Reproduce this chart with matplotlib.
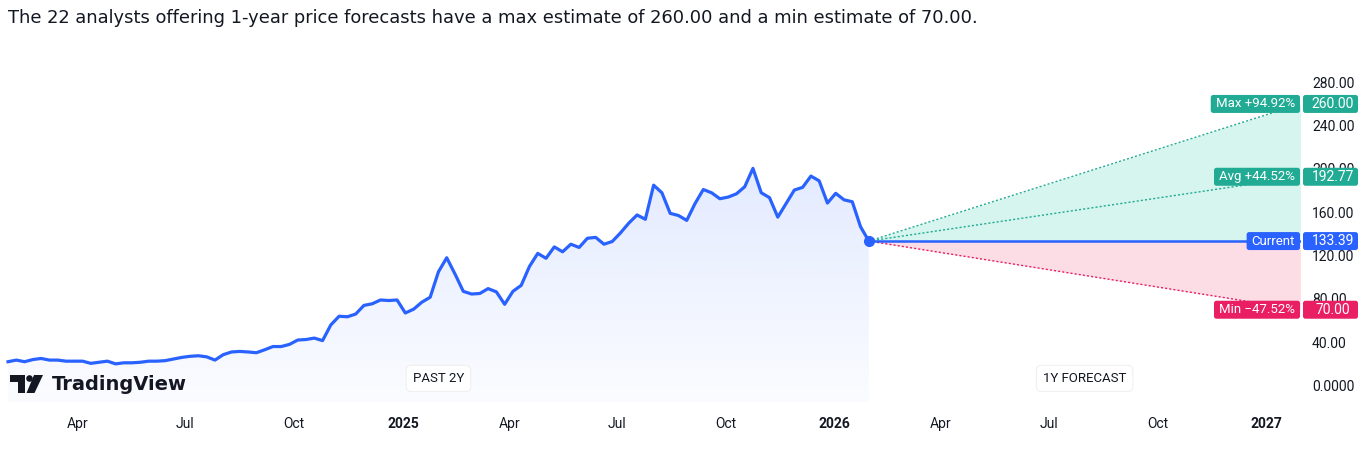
import numpy as np
import pandas as pd
import matplotlib
matplotlib.use("Agg")
import matplotlib.pyplot as plt
import matplotlib.dates as mdates
from matplotlib.patches import FancyBboxPatch, Polygon, Circle
from matplotlib.transforms import IdentityTransform

# weekly closes, past 2 years
prices = [22, 23.5, 22, 24, 25, 23.5, 23.5, 22.5, 22.5, 22.5,
          20.5, 21.5, 22.5, 20, 21, 21, 21.5, 22.5, 22.5, 23,
          24.5, 26, 27, 27.5, 26.5, 23.5, 28.5, 31, 31.5, 31,
          30.3, 33, 36, 36, 38, 42, 42.5, 43.8, 41.5, 56,
          64, 63.5, 66, 74, 75.5, 79, 78.5, 79, 67, 70.5,
          77, 81.5, 105, 118, 103, 87, 84.5, 85, 89.5, 86.5,
          75, 87, 92.5, 110, 122, 117.5, 128, 123.5, 130.5, 127.5,
          136, 136.8, 130.5, 133, 141, 150, 157.5, 153.5, 185, 178,
          159, 157, 152.5, 168, 181, 178, 172.5, 174, 177, 183.5,
          200.5, 178, 173.5, 155.5, 168, 180.5, 183, 193.4, 189, 168.5,
          177.5, 171.5, 169.7, 146.6, 133.39]
last_date = "2026-01-30"
forecast_end = "2027-01-30"

n_analysts = 22
current = 133.39
est_max = 260.00
est_avg = 192.77
est_min = 70.00

y_ticks = [0, 40, 80, 120, 160, 200, 240, 280]
x_tick_dates = ["2024-04-01", "2024-07-01", "2024-10-01", "2025-01-01",
                "2025-04-01", "2025-07-01", "2025-10-01", "2026-01-01",
                "2026-04-01", "2026-07-01", "2026-10-01", "2027-01-01"]
x_tick_labels = ["Apr", "Jul", "Oct", "2025", "Apr", "Jul", "Oct", "2026",
                 "Apr", "Jul", "Oct", "2027"]

BLUE = "#2962ff"
TEAL = "#22ab94"
PINK = "#e91e63"
TXT = "#131722"
UI = "Roboto"

W, H = 1363, 466
fig = plt.figure(figsize=(W / 100, H / 100), dpi=100)
ax = fig.add_axes([0, (H - 402) / H, 1301 / W, (402 - 55) / H])

dates = pd.date_range(end=last_date, periods=len(prices), freq="7D")
x = mdates.date2num(dates)
xe = mdates.date2num(pd.Timestamp(forecast_end))
ymin, ymax = -15.2, 305.2
xlim = (x[0] - 6.8, xe + 0.5)

# area under the price line with a vertical gradient
verts = [(x[0], ymin)] + list(zip(x, prices)) + [(x[-1], ymin)]
clip = Polygon(verts, closed=True, fc="none", ec="none", transform=ax.transData)
ax.add_patch(clip)
g = np.linspace(0, 1, 256)
img = np.zeros((256, 1, 4))
img[..., :3] = matplotlib.colors.to_rgb(BLUE)
img[:, 0, 3] = 0.13 - 0.11 * g
im = ax.imshow(img, extent=[x[0], x[-1], ymin, max(prices)], aspect="auto",
               origin="upper", zorder=1, interpolation="bilinear")
im.set_clip_path(clip)

# forecast cone
xf = [x[-1], xe]
ax.fill_between(xf, [current, current], [current, est_max], color="#d5f5ee", lw=0, zorder=1)
ax.fill_between(xf, [current, current], [current, est_min], color="#fcdde6", lw=0, zorder=1)
ax.plot(xf, [current, est_max], ls=(0, (1.5, 1.5)), color=TEAL, lw=1, zorder=2)
ax.plot(xf, [current, est_avg], ls=(0, (1.5, 1.5)), color=TEAL, lw=1, zorder=2)
ax.plot(xf, [current, est_min], ls=(0, (1.5, 1.5)), color=PINK, lw=1, zorder=2)
ax.plot(xf, [current, current], color=BLUE, lw=1.8, zorder=3)

ax.plot(x, prices, color=BLUE, lw=2.3, solid_joinstyle="round", zorder=4)
ax.plot(x[-1], current, "o", ms=7, color=BLUE, zorder=5)

ax.set_xlim(*xlim)
ax.set_ylim(ymin, ymax)

for s in ax.spines.values():
    s.set_visible(False)
ax.yaxis.tick_right()
ax.set_yticks(y_ticks)
ax.set_yticklabels(["0.0000" if v == 0 else f"{v:.2f}" for v in y_ticks])
ax.set_xticks(mdates.date2num(pd.to_datetime(x_tick_dates)))
ax.set_xticklabels(x_tick_labels)
ax.tick_params(axis="y", length=0, pad=8, labelsize=10, labelcolor=TXT)
ax.tick_params(axis="x", length=0, pad=11, labelsize=10, labelcolor=TXT)
for lab in ax.get_yticklabels() + ax.get_xticklabels():
    lab.set_fontfamily(UI)
for lab in ax.get_xticklabels():
    if lab.get_text().isdigit():
        lab.set_fontweight("bold")

# section captions
xt = ax.get_xaxis_transform()
for xm, cap in [((x[0] + x[-1]) / 2, "PAST 2Y"), ((x[-1] + xe) / 2, "1Y FORECAST")]:
    ax.text(xm, 0.068, cap, transform=xt, ha="center", va="center", fontsize=9.5,
            family=UI, color=TXT, zorder=6,
            bbox=dict(boxstyle="round,pad=0.5,rounding_size=0.4", fc="white",
                      ec="#f0f0f0", lw=0.8))

# right-hand tags
renderer = fig.canvas.get_renderer()
ident = IdentityTransform()


def tag(value, left, right, color):
    yc = ax.transData.transform((0, value))[1]
    t = fig.text(1295, yc, left, transform=ident, ha="right", va="center",
                 fontsize=9.5, family=UI, color="white", zorder=11)
    bb = t.get_window_extent(renderer)
    fig.patches.append(FancyBboxPatch((bb.x0 - 5, yc - 9), 1300 - (bb.x0 - 5), 18,
                                      boxstyle="round,pad=0,rounding_size=2.5",
                                      fc=color, ec="none", transform=ident, zorder=10,
                                      figure=fig))
    fig.patches.append(FancyBboxPatch((1303, yc - 9), 55, 18,
                                      boxstyle="round,pad=0,rounding_size=2.5",
                                      fc=color, ec="none", transform=ident, zorder=10,
                                      figure=fig))
    fig.text(1333, yc, right, transform=ident, ha="center", va="center",
             fontsize=10, family=UI, color="white", zorder=11)


tag(est_max, f"Max +{(est_max / current - 1) * 100:.2f}%", f"{est_max:.2f}", TEAL)
tag(est_avg, f"Avg +{(est_avg / current - 1) * 100:.2f}%", f"{est_avg:.2f}", TEAL)
tag(current, "Current", f"{current:.2f}", BLUE)
tag(est_min, f"Min \u2212{(1 - est_min / current) * 100:.2f}%", f"{est_min:.2f}", PINK)

# TradingView logo
def px(xp, yp):
    return (xp, H - yp)


logo = "#131722"
fig.patches.append(Polygon([px(10, 375), px(25, 375), px(25, 393), px(17.5, 393),
                            px(17.5, 382), px(10, 382)], closed=True, fc=logo,
                           ec="none", transform=ident, figure=fig))
fig.patches.append(Circle(px(29.5, 378.5), 3.3, fc=logo, ec="none",
                          transform=ident, figure=fig))
fig.patches.append(Polygon([px(34, 375), px(43, 375), px(34.5, 393), px(26.5, 393)],
                           closed=True, fc=logo, ec="none", transform=ident, figure=fig))
fig.text(52, H - 385, "TradingView", transform=ident, ha="left", va="center",
         fontsize=14, fontweight="bold", color=logo)

fig.text(8, H - 18, f"The {n_analysts} analysts offering 1-year price forecasts have a max "
         f"estimate of {est_max:.2f} and a min estimate of {est_min:.2f}.",
         transform=ident, ha="left", va="center", fontsize=12.9, color=TXT)

fig.savefig("out.png", dpi=100, facecolor="white")
